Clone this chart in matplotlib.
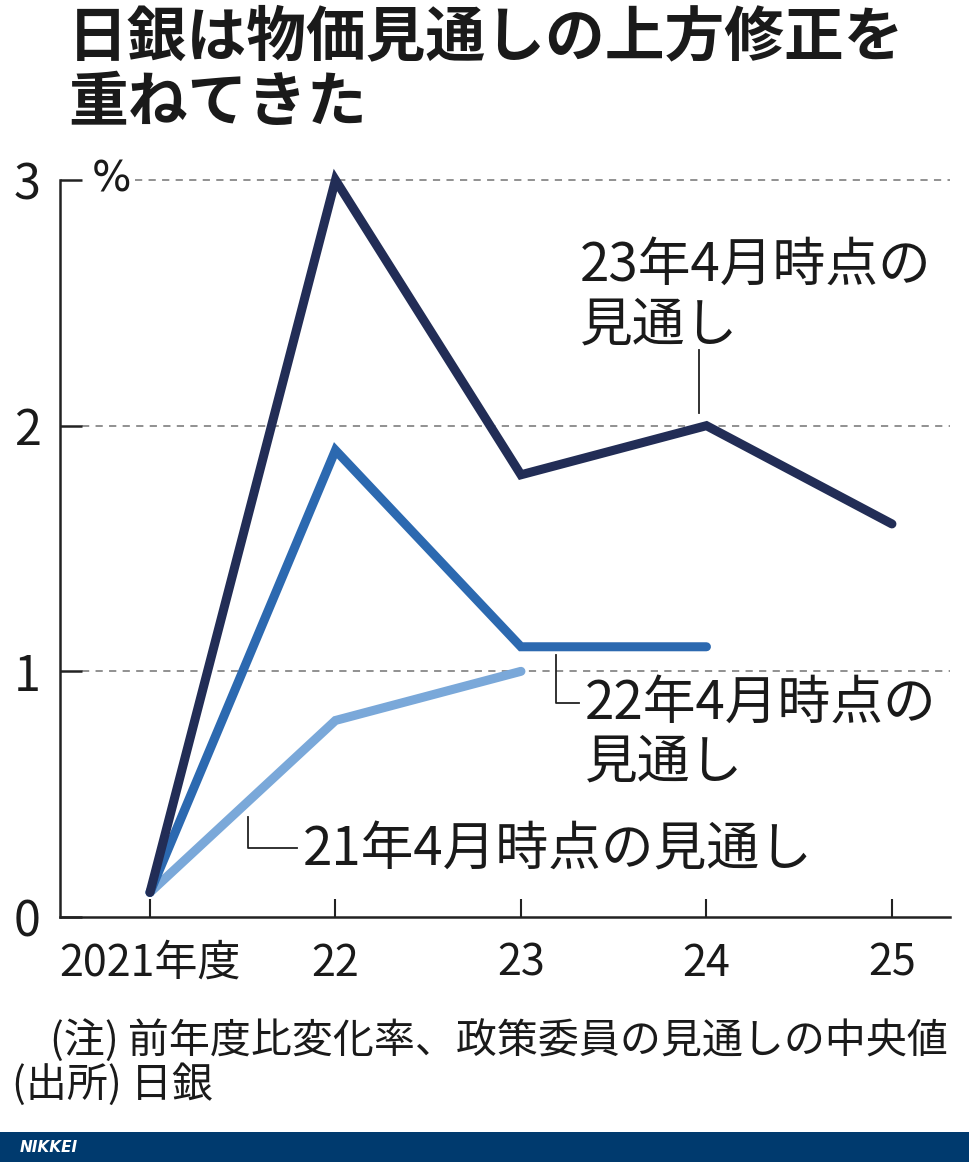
import matplotlib
matplotlib.use("Agg")
import matplotlib.pyplot as plt

plt.rcParams['font.family'] = ['Noto Sans CJK JP', 'DejaVu Sans']

# ---- data ----
categories = ['2021年度', '22', '23', '24', '25']
x_idx = [0, 1, 2, 3, 4]
forecast_2023 = [0.1, 3.0, 1.8, 2.0, 1.6]
forecast_2022 = [0.1, 1.9, 1.1, 1.1]
forecast_2021 = [0.1, 0.8, 1.0]
y_ticks = [0, 1, 2, 3]
y_ticklabels = ['0', '1', '2', '3']

title = '日銀は物価見通しの上方修正を\n重ねてきた'
label_2023 = '23年4月時点の\n見通し'
label_2022 = '22年4月時点の\n見通し'
label_2021 = '21年4月時点の見通し'
note1 = '(注) 前年度比変化率、政策委員の見通しの中央値'
note2 = '(出所) 日銀'

c_dark = '#222d56'
c_mid = '#2c69b0'
c_light = '#7aa8d9'

W, H = 969, 1162
fig = plt.figure(figsize=(W / 100, H / 100), dpi=100)
fig.patch.set_facecolor('white')

ax = fig.add_axes([60 / W, 1 - 917 / H, (950 - 60) / W, (917 - 180) / H])
ax.set_xlim(-0.485, 4.313)
ax.set_ylim(0, 3)

# gridlines (dashed)
tick_frac = 22 / 890
for yv in [1, 2]:
    ax.axhline(yv, xmin=tick_frac, xmax=1, color='#888888', lw=1.3,
               ls=(0, (4, 3.5)), zorder=1)
ax.axhline(3, xmin=75 / 890, xmax=1, color='#888888', lw=1.3,
           ls=(0, (4, 3.5)), zorder=1, clip_on=False)

lw = 6.5
ax.plot(x_idx[:len(forecast_2021)], forecast_2021, color=c_light, lw=lw,
        solid_capstyle='round', solid_joinstyle='miter', zorder=3, clip_on=False)
ax.plot(x_idx[:len(forecast_2022)], forecast_2022, color=c_mid, lw=lw,
        solid_capstyle='round', solid_joinstyle='miter', zorder=4, clip_on=False)
ax.plot(x_idx[:len(forecast_2023)], forecast_2023, color=c_dark, lw=lw,
        solid_capstyle='round', solid_joinstyle='miter', zorder=5, clip_on=False)

# spines
for s in ['top', 'right']:
    ax.spines[s].set_visible(False)
ax.spines['left'].set_linewidth(1.8)
ax.spines['bottom'].set_linewidth(1.8)
ax.spines['left'].set_color('#222222')
ax.spines['bottom'].set_color('#222222')

ax.set_xticks(x_idx)
ax.set_xticklabels(categories, fontsize=31, color='#1a1a1a')
ax.set_yticks(y_ticks)
ax.set_yticklabels(y_ticklabels, fontsize=35, color='#1a1a1a')
ax.tick_params(axis='x', direction='in', length=13, width=1.5, pad=18, colors='#222222')
ax.tick_params(axis='y', direction='in', length=16, width=1.8, pad=14, colors='#222222')
for lbl in ax.get_xticklabels() + ax.get_yticklabels():
    lbl.set_color('#1a1a1a')

# percent sign
ax.text(-0.21, 3.0, '%', fontsize=30, ha='center', va='center', color='#1a1a1a',
        family=['DejaVu Sans'], clip_on=False)

# annotations
txt_kw = dict(fontsize=38, color='#1a1a1a', ha='left', va='center', linespacing=1.1)
ax.text(2.318, 2.532, label_2023, **txt_kw)
ax.plot([2.96, 2.96], [2.308, 2.052], color='#222222', lw=1.3)

ax.text(2.345, 0.751, label_2022, **txt_kw)
ax.plot([2.189, 2.189, 2.313], [1.066, 0.871, 0.871], color='#222222', lw=1.3)

ax.text(0.825, 0.273, label_2021, **txt_kw)
ax.plot([0.528, 0.528, 0.792], [0.407, 0.281, 0.281], color='#222222', lw=1.3)

# title
fig.text(68 / W, 1 - 8 / H, title, fontsize=43, fontweight='bold', ha='left', va='top',
         color='#1a1a1a', linespacing=1.12)

# notes
fig.text(50 / W, 1 - 1040 / H, note1, fontsize=29.5, ha='left', va='center', color='#1a1a1a')
fig.text(12 / W, 1 - 1085 / H, note2, fontsize=29.5, ha='left', va='center', color='#1a1a1a')

# NIKKEI bar
bar = fig.add_axes([0, 0, 1, 30 / H])
bar.set_facecolor('#003a6e')
bar.set_xticks([]); bar.set_yticks([])
for s in bar.spines.values():
    s.set_visible(False)
bar.text(20 / W, 0.5, 'NIKKEI', transform=bar.transAxes, color='white', fontsize=11,
         fontweight='bold', fontstyle='italic', ha='left', va='center', family=['DejaVu Sans'])

fig.savefig('out.png', dpi=100, facecolor='white')
